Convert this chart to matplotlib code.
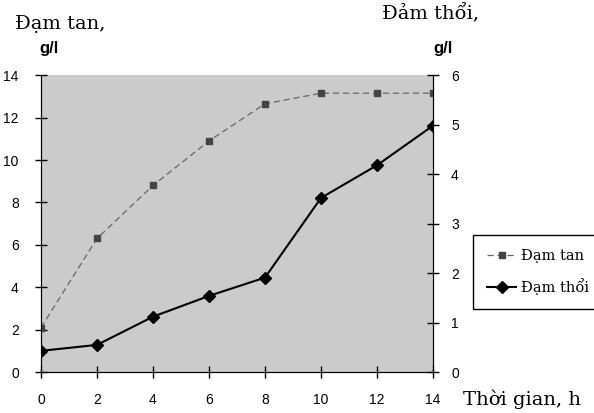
import matplotlib.pyplot as plt

# time, h
hours = [0, 2, 4, 6, 8, 10, 12, 14]

# Đạm tan, g/l (left axis)
dam_tan = [2.1, 6.3, 8.8, 10.9, 12.65, 13.15, 13.15, 13.15]

# Đạm thổi, g/l (right axis)
dam_thoi = [0.43, 0.55, 1.12, 1.54, 1.91, 3.52, 4.18, 4.98]

left_ticks = [0, 2, 4, 6, 8, 10, 12, 14]
right_ticks = [0, 1, 2, 3, 4, 5, 6]

serif = 'DejaVu Serif'
sans = 'Liberation Sans'

fig = plt.figure(figsize=(5.94, 4.13), dpi=100)
ax = fig.add_axes([0.069, 0.099, 0.660, 0.719])
ax2 = ax.twinx()

ax.set_facecolor('#cbcbcb')
ax2.patch.set_visible(False)

l1, = ax.plot(hours, dam_tan, linestyle=(0, (5, 3)), color='#666666', linewidth=0.9,
              marker='s', markersize=5, markerfacecolor='#444444',
              markeredgecolor='#444444', label='Đạm tan')
l2, = ax2.plot(hours, dam_thoi, color='black', linewidth=1.5,
               marker='D', markersize=6, label='Đạm thổi')

ax.set_xlim(0, 14)
ax.set_ylim(0, 14)
ax2.set_ylim(0, 6)
ax.set_xticks(hours)
ax.set_yticks(left_ticks)
ax2.set_yticks(right_ticks)

for a in (ax, ax2):
    a.spines['top'].set_visible(False)
    a.tick_params(direction='inout', length=8, width=1, labelsize=10, colors='black')
    for t in a.get_xticklabels() + a.get_yticklabels():
        t.set_family(sans)
ax.tick_params(axis='x', pad=11)
ax.tick_params(axis='y', pad=12)
ax2.tick_params(axis='y', pad=9)

fig.legend(handles=[l1, l2], loc='upper left', bbox_to_anchor=(0.797, 0.431),
           frameon=True, fancybox=False, edgecolor='black', framealpha=1,
           prop={'family': serif, 'size': 10.5},
           handlelength=2.0, handletextpad=0.3, borderpad=0.95,
           borderaxespad=0, labelspacing=1.05)

fig.text(0.025, 0.930, 'Đạm tan,', family=serif, fontsize=14, va='baseline')
fig.text(0.067, 0.872, 'g/l', family=sans, fontsize=12, weight='bold', va='baseline')
fig.text(0.643, 0.952, 'Đảm thổi,', family=serif, fontsize=14, va='baseline')
fig.text(0.729, 0.872, 'g/l', family=sans, fontsize=12, weight='bold', va='baseline')
fig.text(0.780, 0.019, 'Thời gian, h', family=serif, fontsize=14, va='baseline')

fig.savefig('out.png', dpi=100)
